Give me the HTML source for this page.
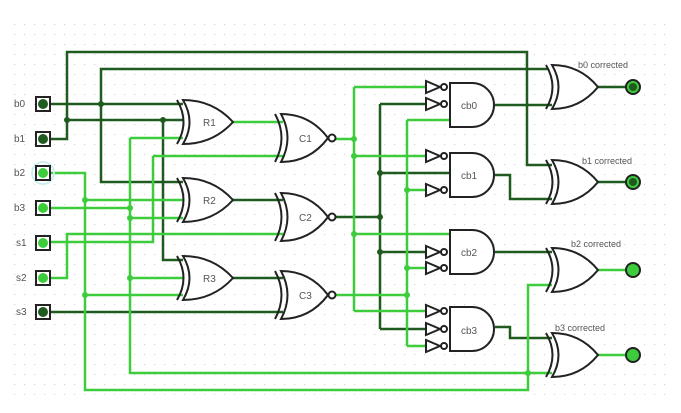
<!DOCTYPE html>
<html><head><meta charset="utf-8"><style>
html,body{margin:0;padding:0;background:#fff;}
svg{display:block;font-family:"Liberation Sans",sans-serif;}
</style></head><body>
<svg width="681" height="413" viewBox="0 0 681 413" xmlns="http://www.w3.org/2000/svg">
<defs>
<pattern id="g" width="10" height="10" patternUnits="userSpaceOnUse"><rect x="4" y="4" width="1.2" height="1.2" fill="#d8d8d8"/></pattern>
</defs>
<rect width="681" height="413" fill="#fff"/>
<rect x="5" y="20" width="665" height="375" fill="url(#g)"/>
<g fill="none" stroke-width="2.5" stroke-linejoin="miter">
<!-- dark wires -->
<g stroke="#1f5a1f">
<path d="M67 120V52H527V165H552"/>
<path d="M50 139H67V120H183"/>
<path d="M50 104H183"/>
<path d="M548 69H101V182H183"/>
<path d="M163 120V260H183"/>
<path d="M232 200H283"/>
<path d="M232 278H283"/>
<path d="M50 312H283"/>
<path d="M335 217H380M380 104V329M380 104H425M380 173H450M380 252H425M380 329H425"/>
<path d="M495 105H552M495 175H510V199H552M495 252H552M495 327H510V338H552"/>
<path d="M598 87H628M598 182H628"/>
</g>
<!-- bright wires -->
<g stroke="#3ccc3c">
<path d="M50 173H85V390H528V285H552"/>
<path d="M85 200H183M85 295H183"/>
<path d="M50 208H130M130 138V373H552M130 138H183M130 278H183M130 218H183"/>
<path d="M153 156H283M153 156V242H50"/>
<path d="M50 278H67V234H283"/>
<path d="M232 122H283"/>
<path d="M335 139H354M354 87V311M354 87H425M354 156H425M354 311H425M354 234H450"/>
<path d="M335 295H407M407 120V346M407 120H450M407 190H425M407 268H425M407 346H425"/>
<path d="M598 270H628M598 355H628"/>
</g>
</g>
<!-- junction dots -->
<g fill="#1f5a1f">
<circle cx="101" cy="104" r="3"/><circle cx="67" cy="120" r="3"/><circle cx="163" cy="120" r="3"/>
<circle cx="380" cy="173" r="3"/><circle cx="380" cy="217" r="3"/><circle cx="380" cy="252" r="3"/>
</g>
<g fill="#3ccc3c">
<circle cx="85" cy="200" r="3"/><circle cx="85" cy="295" r="3"/><circle cx="130" cy="208" r="3"/><circle cx="130" cy="218" r="3"/><circle cx="130" cy="278" r="3"/>
<circle cx="354" cy="139" r="3"/><circle cx="354" cy="156" r="3"/><circle cx="354" cy="234" r="3"/>
<circle cx="407" cy="295" r="3"/><circle cx="407" cy="190" r="3"/><circle cx="407" cy="268" r="3"/>
<circle cx="528" cy="373" r="3"/>
</g>
<!-- gates -->
<g fill="#fff" stroke="#222" stroke-width="2">
<!-- R XOR gates -->
<path d="M177 100Q190 122 177 144" fill="none"/><path d="M183 100Q196 122 183 144Q213 144 233 122Q213 100 183 100Z"/>
<path d="M177 178Q190 200 177 222" fill="none"/><path d="M183 178Q196 200 183 222Q213 222 233 200Q213 178 183 178Z"/>
<path d="M177 256Q190 278 177 300" fill="none"/><path d="M183 256Q196 278 183 300Q213 300 233 278Q213 256 183 256Z"/>
<!-- C XNOR gates -->
<path d="M275 114Q288 138 275 162" fill="none"/><path d="M281 114Q294 138 281 162Q310 162 328 138Q310 114 281 114Z"/><circle cx="332" cy="138" r="3.5"/>
<path d="M275 193Q288 217 275 241" fill="none"/><path d="M281 193Q294 217 281 241Q310 241 328 217Q310 193 281 193Z"/><circle cx="332" cy="217" r="3.5"/>
<path d="M275 271Q288 295 275 319" fill="none"/><path d="M281 271Q294 295 281 319Q310 319 328 295Q310 271 281 271Z"/><circle cx="332" cy="295" r="3.5"/>
<!-- AND gates -->
<path d="M450 83H472A22 22 0 0 1 472 127H450Z"/>
<path d="M450 153H472A22 22 0 0 1 472 197H450Z"/>
<path d="M450 230H472A22 22 0 0 1 472 274H450Z"/>
<path d="M450 307H472A22 22 0 0 1 472 351H450Z"/>
<!-- NOT gates -->
<g>
<path d="M426 81L426 93L440 87Z"/><circle cx="444" cy="87" r="3"/>
<path d="M426 98L426 110L440 104Z"/><circle cx="444" cy="104" r="3"/>
<path d="M426 150L426 162L440 156Z"/><circle cx="444" cy="156" r="3"/>
<path d="M426 184L426 196L440 190Z"/><circle cx="444" cy="190" r="3"/>
<path d="M426 246L426 258L440 252Z"/><circle cx="444" cy="252" r="3"/>
<path d="M426 262L426 274L440 268Z"/><circle cx="444" cy="268" r="3"/>
<path d="M426 305L426 317L440 311Z"/><circle cx="444" cy="311" r="3"/>
<path d="M426 323L426 335L440 329Z"/><circle cx="444" cy="329" r="3"/>
<path d="M426 340L426 352L440 346Z"/><circle cx="444" cy="346" r="3"/>
</g>
<!-- output XOR gates -->
<path d="M546 65Q559 87 546 109" fill="none"/><path d="M552 65Q565 87 552 109Q580 109 598 87Q580 65 552 65Z"/>
<path d="M546 160Q559 182 546 204" fill="none"/><path d="M552 160Q565 182 552 204Q580 204 598 182Q580 160 552 160Z"/>
<path d="M546 248Q559 270 546 292" fill="none"/><path d="M552 248Q565 270 552 292Q580 292 598 270Q580 248 552 248Z"/>
<path d="M546 333Q559 355 546 377" fill="none"/><path d="M552 333Q565 355 552 377Q580 377 598 355Q580 333 552 333Z"/>
</g>
<!-- output pins -->
<g stroke="#222" stroke-width="2">
<circle cx="633" cy="87" r="7" fill="#3ccc3c"/><circle cx="633" cy="87" r="4" fill="#1f5a1f" stroke="none"/>
<circle cx="633" cy="182" r="7" fill="#3ccc3c"/><circle cx="633" cy="182" r="4" fill="#1f5a1f" stroke="none"/>
<circle cx="633" cy="270" r="7" fill="#3ccc3c"/>
<circle cx="633" cy="355" r="7" fill="#3ccc3c"/>
</g>
<!-- input pins -->
<circle cx="43" cy="173" r="11" fill="none" stroke="#cdeeee" stroke-width="2"/>
<g stroke="#222" stroke-width="2">
<rect x="36" y="97" width="14" height="14" fill="#fff"/><circle cx="43" cy="104" r="5" fill="#1f5a1f" stroke="none"/>
<rect x="36" y="132" width="14" height="14" fill="#fff"/><circle cx="43" cy="139" r="5" fill="#1f5a1f" stroke="none"/>
<rect x="36" y="166" width="14" height="14" fill="#fff"/><circle cx="43" cy="173" r="5" fill="#3ccc3c" stroke="none"/>
<rect x="36" y="201" width="14" height="14" fill="#fff"/><circle cx="43" cy="208" r="5" fill="#3ccc3c" stroke="none"/>
<rect x="36" y="236" width="14" height="14" fill="#fff"/><circle cx="43" cy="243" r="5" fill="#3ccc3c" stroke="none"/>
<rect x="36" y="271" width="14" height="14" fill="#fff"/><circle cx="43" cy="278" r="5" fill="#3ccc3c" stroke="none"/>
<rect x="36" y="305" width="14" height="14" fill="#fff"/><circle cx="43" cy="312" r="5" fill="#1f5a1f" stroke="none"/>
</g>
<!-- labels -->
<g font-size="10" fill="#555">
<text x="14" y="107">b0</text><text x="14" y="142">b1</text><text x="14" y="176">b2</text><text x="14" y="211">b3</text>
<text x="16" y="246">s1</text><text x="16" y="281">s2</text><text x="16" y="315">s3</text>
<text x="203" y="126">R1</text><text x="203" y="204">R2</text><text x="203" y="282">R3</text>
<text x="299" y="142">C1</text><text x="299" y="221">C2</text><text x="299" y="299">C3</text>
<text x="461" y="109">cb0</text><text x="461" y="179">cb1</text><text x="461" y="256">cb2</text><text x="461" y="334">cb3</text>
</g>
<g font-size="9" fill="#555">
<text x="578" y="68">b0 corrected</text><text x="582" y="164">b1 corrected</text>
<text x="571" y="247">b2 corrected</text><text x="555" y="331">b3 corrected</text>
</g>
</svg>
</body></html>
